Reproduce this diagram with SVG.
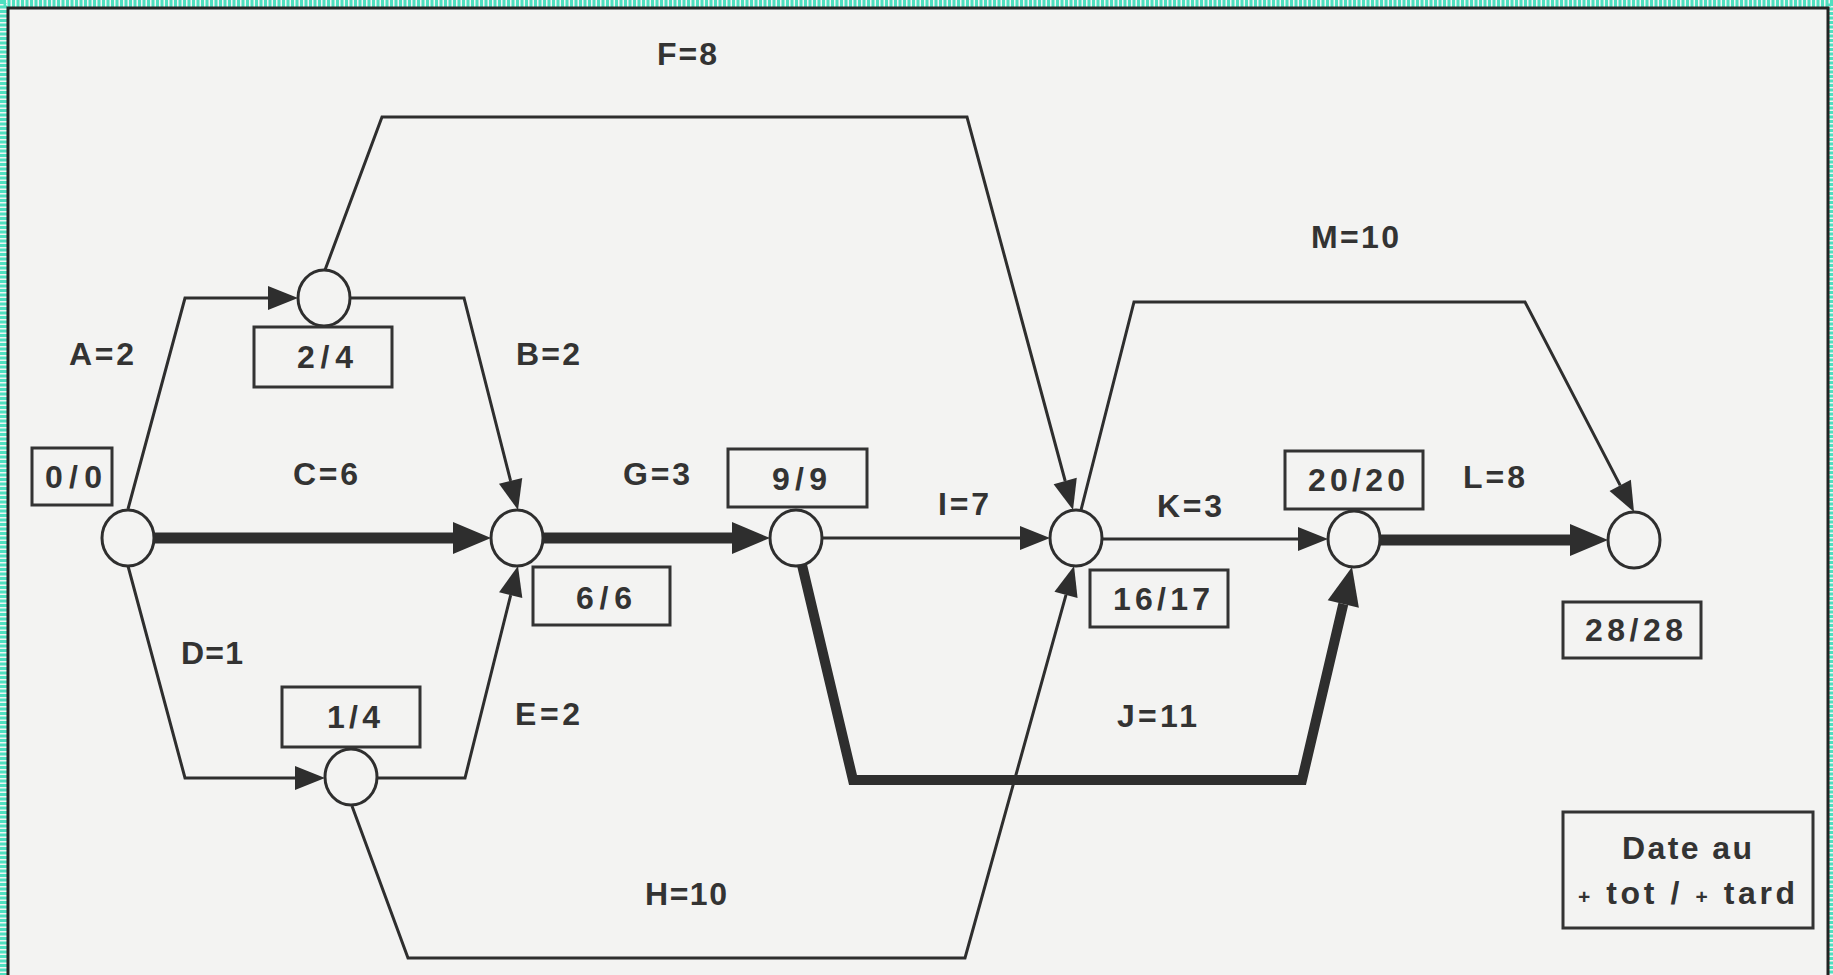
<svg xmlns="http://www.w3.org/2000/svg" width="1833" height="975" viewBox="0 0 1833 975">
<style>
.bg{fill:#f3f3f2}
.edge{fill:none;stroke:#2e2e2e;stroke-width:3;stroke-linejoin:miter}
.crit{fill:none;stroke:#2e2e2e;stroke-width:11;stroke-linejoin:miter}
.critj{fill:none;stroke:#2e2e2e;stroke-width:10;stroke-linejoin:miter}
.node{fill:#f3f3f2;stroke:#2e2e2e;stroke-width:3}
.box{fill:none;stroke:#333;stroke-width:3}
.t{font-family:"Liberation Sans",Arial,sans-serif;font-weight:bold;font-size:32px;fill:#333}
.small{font-size:21px}
</style>
<defs>
<marker id="ah" markerUnits="userSpaceOnUse" markerWidth="31" markerHeight="25" refX="0" refY="12" orient="auto" overflow="visible">
<path d="M0,0 L30,12 L0,24 Z" fill="#2e2e2e"/>
</marker>
<marker id="ahb" markerUnits="userSpaceOnUse" markerWidth="39" markerHeight="33" refX="0" refY="16" orient="auto" overflow="visible">
<path d="M0,0 L38,16 L0,32 Z" fill="#2e2e2e"/>
</marker>
</defs>
<rect class="bg" x="0" y="0" width="1833" height="975"/>
<g id="frame">
<path d="M3.5,985 V3.5 H1830.5 V985" fill="none" stroke="#4fe0c0" stroke-width="7" stroke-dasharray="3 1.5"/>
<path d="M8,990 V8 H1828 V990" fill="none" stroke="#222" stroke-width="3"/>
</g>
<g id="connectors">
<path id="A" class="edge" d="M128,509 L185,298 L268,298" marker-end="url(#ah)"/>
<path id="B" class="edge" d="M350,298 L464,298 L510.6,480.9" marker-end="url(#ah)"/>
<path id="C" class="crit" d="M154,538 L453,538" marker-end="url(#ahb)"/>
<path id="D" class="edge" d="M128,566 L185,778 L295,778" marker-end="url(#ah)"/>
<path id="E" class="edge" d="M377,778 L465,778 L510.7,595.1" marker-end="url(#ah)"/>
<path id="F" class="edge" d="M325,270 L382,117 L967,117 L1065.2,481" marker-end="url(#ah)"/>
<path id="G" class="crit" d="M543,538 L732,538" marker-end="url(#ahb)"/>
<path id="H" class="edge" d="M352,806 L408,958 L965,958 L1066,594.9" marker-end="url(#ah)"/>
<path id="I" class="edge" d="M822,538 L1020,538" marker-end="url(#ah)"/>
<path id="J" class="critj" d="M802,565 L853,780 L1302,780 L1343.3,604" marker-end="url(#ahb)"/>
<path id="K" class="edge" d="M1102,539 L1298,539" marker-end="url(#ah)"/>
<path id="L" class="crit" d="M1380,540 L1570,540" marker-end="url(#ahb)"/>
<path id="M" class="edge" d="M1081,510 L1134,302 L1525,302 L1620.2,485.4" marker-end="url(#ah)"/>
</g>
<g id="edge-labels">
<text class="t" x="657" y="65" textLength="60" lengthAdjust="spacing">F=8</text>
<text class="t" x="69" y="365" textLength="65" lengthAdjust="spacing">A=2</text>
<text class="t" x="516" y="365" textLength="64" lengthAdjust="spacing">B=2</text>
<text class="t" x="293" y="485" textLength="65" lengthAdjust="spacing">C=6</text>
<text class="t" x="623" y="485" textLength="67" lengthAdjust="spacing">G=3</text>
<text class="t" x="181" y="664" textLength="62" lengthAdjust="spacing">D=1</text>
<text class="t" x="515" y="725" textLength="65" lengthAdjust="spacing">E=2</text>
<text class="t" x="645" y="905" textLength="82" lengthAdjust="spacing">H=10</text>
<text class="t" x="938" y="515" textLength="51" lengthAdjust="spacing">I=7</text>
<text class="t" x="1117" y="727" textLength="80" lengthAdjust="spacing">J=11</text>
<text class="t" x="1157" y="517" textLength="65" lengthAdjust="spacing">K=3</text>
<text class="t" x="1463" y="488" textLength="62" lengthAdjust="spacing">L=8</text>
<text class="t" x="1311" y="248" textLength="88" lengthAdjust="spacing">M=10</text>
</g>
<g id="n1"><ellipse class="node" cx="128" cy="538" rx="26" ry="28"/><rect class="box" x="32" y="448" width="80" height="57"/><text class="t" x="45" y="488" textLength="57" lengthAdjust="spacing">0/0</text></g>
<g id="n2"><ellipse class="node" cx="324" cy="298" rx="26" ry="28"/><rect class="box" x="254" y="327" width="138" height="60"/><text class="t" x="297" y="368" textLength="56" lengthAdjust="spacing">2/4</text></g>
<g id="n3"><ellipse class="node" cx="517" cy="538" rx="26" ry="28"/><rect class="box" x="533" y="567" width="137" height="58"/><text class="t" x="576" y="609" textLength="56" lengthAdjust="spacing">6/6</text></g>
<g id="n4"><ellipse class="node" cx="351" cy="777" rx="26" ry="28"/><rect class="box" x="282" y="687" width="138" height="60"/><text class="t" x="327" y="728" textLength="53" lengthAdjust="spacing">1/4</text></g>
<g id="n5"><ellipse class="node" cx="796" cy="538" rx="26" ry="28"/><rect class="box" x="728" y="449" width="139" height="58"/><text class="t" x="772" y="490" textLength="55" lengthAdjust="spacing">9/9</text></g>
<g id="n6"><ellipse class="node" cx="1076" cy="538" rx="26" ry="28"/><rect class="box" x="1090" y="570" width="138" height="57"/><text class="t" x="1113" y="610" textLength="97" lengthAdjust="spacing">16/17</text></g>
<g id="n7"><ellipse class="node" cx="1354" cy="539" rx="26" ry="28"/><rect class="box" x="1285" y="451" width="138" height="58"/><text class="t" x="1308" y="491" textLength="97" lengthAdjust="spacing">20/20</text></g>
<g id="n8"><ellipse class="node" cx="1634" cy="540" rx="26" ry="28"/><rect class="box" x="1563" y="602" width="138" height="56"/><text class="t" x="1585" y="641" textLength="98" lengthAdjust="spacing">28/28</text></g>
<g id="legend">
<rect class="box" x="1563" y="812" width="250" height="116"/>
<text class="t" x="1622" y="859" textLength="130" lengthAdjust="spacing">Date au</text>
<text class="t" x="1578" y="904" textLength="217" lengthAdjust="spacing"><tspan class="small">+</tspan> tot / <tspan class="small">+</tspan> tard</text>
</g>
</svg>
